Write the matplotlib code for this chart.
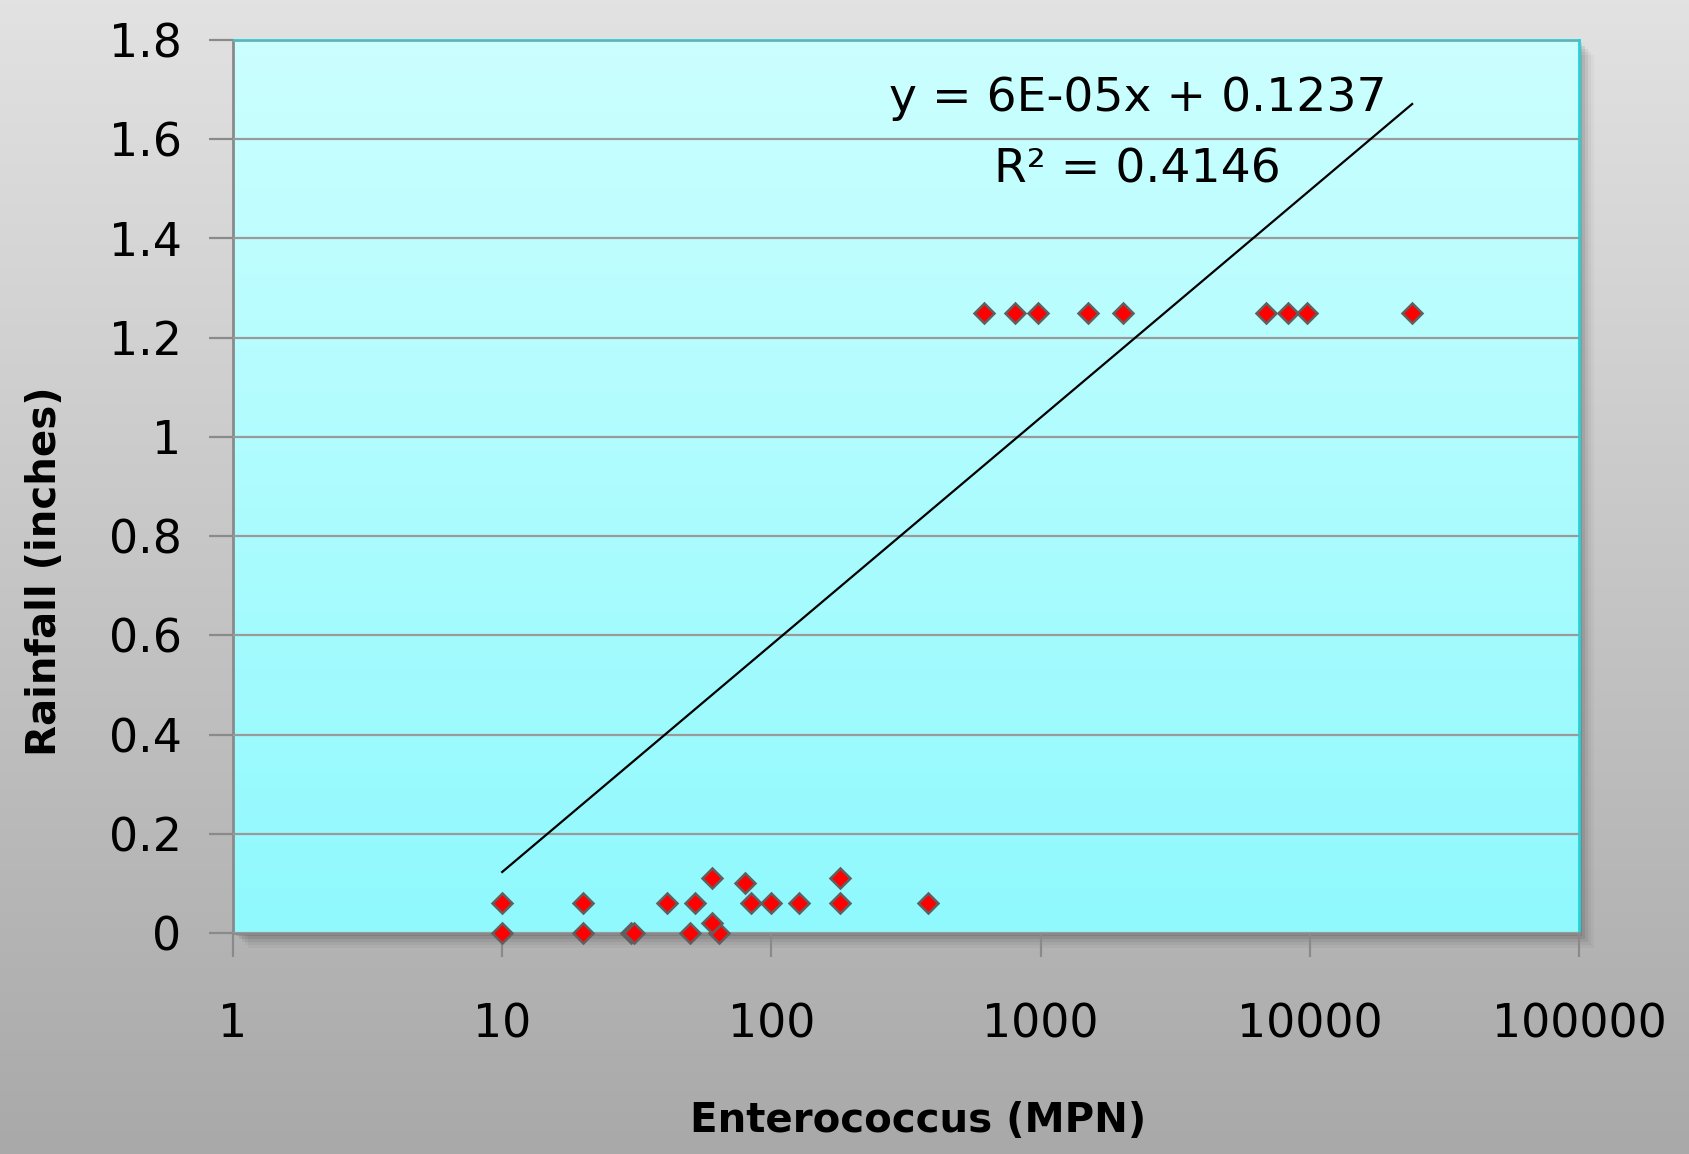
import numpy as np
import matplotlib
matplotlib.use("Agg")
import matplotlib.pyplot as plt
from matplotlib.patches import Rectangle

# enterococcus (MPN) vs rainfall (inches)
entero = [10, 20, 30, 31, 50, 64, 60,
          10, 20, 41, 52, 84, 100, 127, 180, 382,
          60, 180, 80,
          617, 804, 980, 1500, 2020, 6870, 8300, 9770, 24000]
rain = [0, 0, 0, 0, 0, 0, 0.02,
        0.06, 0.06, 0.06, 0.06, 0.06, 0.06, 0.06, 0.06, 0.06,
        0.11, 0.11, 0.10,
        1.25, 1.25, 1.25, 1.25, 1.25, 1.25, 1.25, 1.25, 1.25]

trend_x = [10, 24000]
trend_y = [0.123, 1.671]

y_ticks = [0, 0.2, 0.4, 0.6, 0.8, 1, 1.2, 1.4, 1.6, 1.8]
y_labels = ["0", "0.2", "0.4", "0.6", "0.8", "1", "1.2", "1.4", "1.6", "1.8"]
x_ticks = [1, 10, 100, 1000, 10000, 100000]
x_labels = ["1", "10", "100", "1000", "10000", "100000"]

plt.rcParams['font.family'] = ['DejaVu Sans']

fig = plt.figure(figsize=(16.9, 11.54), dpi=100)

# figure background gradient
bg = fig.add_axes([0, 0, 1, 1], zorder=-10)
grad = np.linspace(0, 1, 256).reshape(-1, 1)
top_c = np.array([0xe2, 0xe2, 0xe2]) / 255
bot_c = np.array([0xa9, 0xa9, 0xa9]) / 255
img = top_c + (bot_c - top_c) * grad[:, :, None]
bg.imshow(img, aspect='auto', extent=[0, 1, 0, 1])
bg.set_axis_off()

left, bottom, w, h = 233 / 1690, 1 - 933 / 1154, (1579 - 233) / 1690, (933 - 40) / 1154

# drop shadow
for i, a in enumerate([0.10, 0.08, 0.06, 0.04, 0.03]):
    d = (i + 1) * 3
    bg.add_patch(Rectangle((left + d / 1690, bottom - d / 1154), w, h,
                           transform=bg.transAxes, color='black', alpha=a, lw=0))

ax = fig.add_axes([left, bottom, w, h])
ax.set_xscale('log')
ax.set_xlim(1, 100000)
ax.set_ylim(0, 1.8)

top_p = np.array([0xcc, 0xff, 0xff]) / 255
bot_p = np.array([0x8f, 0xf9, 0xfd]) / 255
pimg = top_p + (bot_p - top_p) * grad[:, :, None]
ax.imshow(pimg, aspect='auto', extent=[0, 1, 0, 1], transform=ax.transAxes, zorder=0)

ax.set_yticks(y_ticks)
ax.set_yticklabels(y_labels)
ax.set_xticks(x_ticks)
ax.set_xticklabels(x_labels)
ax.minorticks_off()
ax.yaxis.grid(True, color='#9a9a9a', lw=1.6, zorder=1)
ax.set_axisbelow(False)

ax.plot(trend_x, trend_y, color='black', lw=1.6, zorder=3)
ax.plot(entero, rain, 'D', ms=10, mfc='#ff0000', mec='#606060', mew=1.8,
        zorder=4, clip_on=False)

for s in ['top', 'right']:
    ax.spines[s].set_color('#22d3da')
    ax.spines[s].set_linewidth(2)
for s in ['left', 'bottom']:
    ax.spines[s].set_color('#8a8a8a')
    ax.spines[s].set_linewidth(2)

ax.tick_params(axis='both', length=17, width=1.6, color='#8a8a8a', labelsize=33)
ax.tick_params(axis='y', pad=20)
ax.tick_params(axis='x', pad=33)

ax.text(0.672, 0.934, "y = 6E-05x + 0.1237", transform=ax.transAxes, fontsize=34,
        ha='center', va='center')
ax.text(0.672, 0.854, "R² = 0.4146", transform=ax.transAxes, fontsize=34,
        ha='center', va='center')

fig.text(45 / 1690, 1 - 571 / 1154, "Rainfall (inches)", rotation=90, fontsize=29,
         ha='center', va='center', fontweight='semibold')
fig.text(918 / 1690, 1 - 1121 / 1154, "Enterococcus (MPN)", fontsize=29,
         ha='center', va='center', fontweight='semibold')

fig.savefig("out.png", dpi=100)
